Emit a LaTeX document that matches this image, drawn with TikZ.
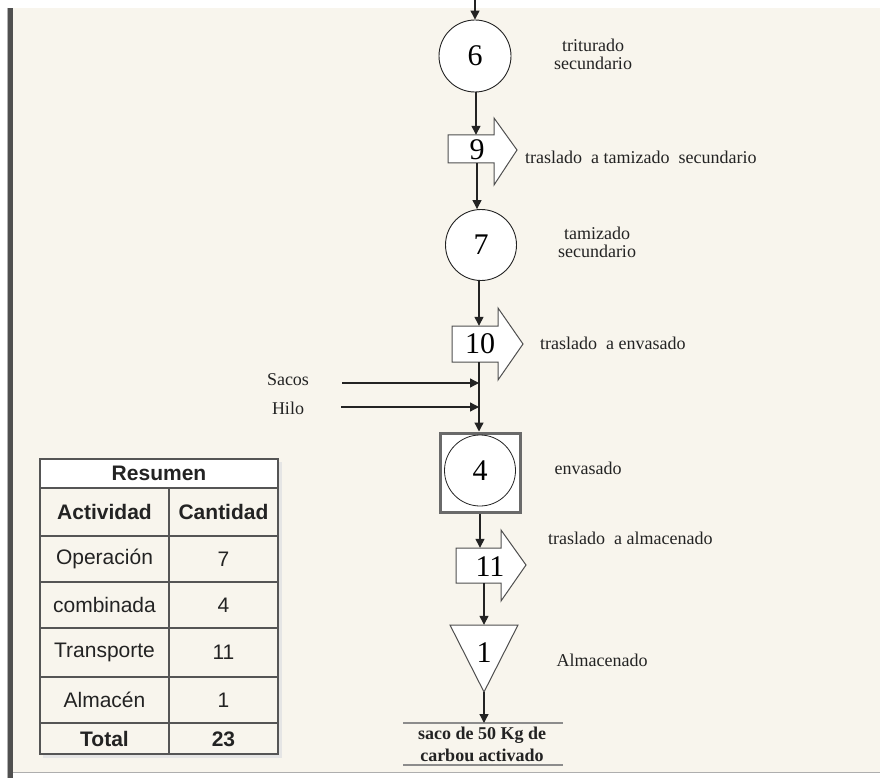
\documentclass[tikz,border=0pt]{standalone}
\usepackage{fontspec}
\setmainfont{Liberation Serif}
\newfontfamily\tablefont{Liberation Sans}
\usetikzlibrary{arrows.meta,calc}

\definecolor{paper}{RGB}{248,245,237}
\definecolor{ink}{RGB}{35,35,35}
\definecolor{framegray}{RGB}{80,80,80}
\definecolor{gridgray}{RGB}{85,85,85}
\definecolor{rulegray}{RGB}{140,140,140}

\tikzset{
  flow/.style={draw=ink, line width=1.3pt, -{Triangle[length=9pt,width=9pt]}},
  opcircle/.style={circle, draw=ink, line width=0.9pt, fill=white, inner sep=0pt,
    font=\fontsize{30}{32}\selectfont, text=black},
  shapeline/.style={draw=ink!80, line width=1pt, fill=white},
  num/.style={inner sep=0pt, font=\fontsize{30}{32}\selectfont, text=black},
  body/.style={inner sep=0pt, draw=none},
  note/.style={inner sep=0pt, align=center, text=ink, font=\fontsize{18}{18}\selectfont},
  tcell/.style={inner sep=0pt, text=ink, font=\tablefont\fontsize{21}{22}\selectfont},
  thead/.style={tcell, font=\tablefont\bfseries\fontsize{21}{22}\selectfont},
  grid/.style={draw=gridgray, line width=2.2pt},
}

\begin{document}
\begin{tikzpicture}[x=1pt,y=-1pt]
  % page and frame
  \useasboundingbox (0,0) rectangle (880,778);
  \fill[white] (0,0) rectangle (880,778);
  \fill[paper] (13,8) rectangle (880,772);
  \fill[framegray] (7,8) rectangle (13,778);
  \draw[gray!60, line width=0.8pt] (7.4,8) -- (7.4,778);
  \draw[rulegray!70, line width=1.2pt] (13,772.5) -- (880,772.5);

  % ---------- flow column ----------
  \coordinate (start) at (475,0);
  \node[opcircle, minimum size=72pt] (c6) at (475,56) {6};

  % transport 9
  \draw[shapeline] (448,135) -- (494,135) -- (494,118) -- (517,150)
      -- (494,185) -- (494,163) -- (448,163) -- cycle;
  \node[body, minimum width=46pt, minimum height=28pt] (t9) at (471,149) {};
  \node[num] (n9) at (477,150) {9};

  \node[opcircle, minimum size=71pt] (c7) at (481,245) {7};

  % transport 10
  \draw[shapeline] (452,326) -- (498,326) -- (498,308) -- (523,344)
      -- (498,380) -- (498,362) -- (452,362) -- cycle;
  \node[body, minimum width=46pt, minimum height=36pt] (t10) at (475,344) {};
  \node[num] (n10) at (480,344) {10};

  % combined operation 4
  \node[draw=framegray!85, line width=3pt, fill=white, minimum width=80pt,
        minimum height=79pt, inner sep=0pt] (sq4) at (480,472.5) {};
  \node[opcircle, minimum size=71pt, line width=0.8pt] (c4) at (480,470.5) {4};

  % transport 11
  \draw[shapeline] (456,548) -- (501,548) -- (501,530) -- (526,565)
      -- (501,601) -- (501,583) -- (456,583) -- cycle;
  \node[body, minimum width=45pt, minimum height=35pt] (t11) at (478.5,565.5) {};
  \node[num] (n11) at (490,567) {11};

  % storage 1
  \draw[shapeline] (450,625) -- (518,625) -- (484,692) -- cycle;
  \node[body, minimum width=68pt, minimum height=67pt] (s1) at (484,658.5) {};
  \node[num] (n1) at (484,653) {1};

  % final product
  \draw[rulegray, line width=2pt] (403,723) -- (563,723);
  \draw[rulegray, line width=2pt] (403,765) -- (563,765);
  \coordinate (endtop) at (484,723);
  \node[note, font=\bfseries\fontsize{18}{22}\selectfont] (prod) at (482,744)
      {saco de 50 Kg de\\carbou activado};

  % inputs
  \node[note] (sacos) at (288,380) {Sacos};
  \node[note] (hilo) at (288,408) {Hilo};
  \coordinate (sacosA) at (342,383);
  \coordinate (hiloA) at (341,407);

  % connectors
  \draw[flow] (start) -- (c6.north);
  \draw[flow] (c6.south -| 476,0) -- (476,0 |- t9.north);
  \draw[flow] (477,0 |- t9.south) -- (c7.north -| 477,0);
  \draw[flow] (c7.south -| 479,0) -- (479,0 |- t10.north);
  \draw[flow] (479,0 |- t10.south) -- (sq4.north -| 479,0);
  \draw[flow] (sacosA) -- (sacosA -| 479,0);
  \draw[flow] (hiloA) -- (hiloA -| 479,0);
  \draw[flow] (sq4.south -| 480,0) -- (480,0 |- t11.north);
  \draw[flow] (484,0 |- t11.south) -- (s1.north -| 484,0);
  \draw[flow] (s1.south -| 484,0) -- (endtop);

  % descriptions
  \node[note] (d6) at (593,54) {triturado\\secundario};
  \node[note, anchor=west] (d9) at (525,157) {traslado\hspace{0.5em}a tamizado\hspace{0.5em}secundario};
  \node[note] (d7) at (597,242) {tamizado\\secundario};
  \node[note, anchor=west] (d10) at (540,343) {traslado\hspace{0.5em}a envasado};
  \node[note] (d4) at (588,468) {envasado};
  \node[note, anchor=west] (d11) at (548,538) {traslado\hspace{0.5em}a almacenado};
  \node[note] (d1) at (602,660) {Almacenado};

  % ---------- summary table ----------
  \fill[black!10] (43,462) rectangle (282,758);
  \fill[paper] (40,459) rectangle (278,754);
  \fill[white] (40,459) rectangle (278,488);
  \draw[grid] (40,459) rectangle (278,754);
  \foreach \yy in {488,536,582,628,677,723}
    \draw[grid] (40,\yy) -- (278,\yy);
  \draw[grid] (169,488) -- (169,754);

  \node[thead] (hres) at (159,473) {Resumen};
  \node[thead] (hact) at (104.5,512) {Actividad};
  \node[thead] (hcan) at (223.5,512) {Cantidad};
  \node[tcell] (r1a) at (104.5,559) {Operación};
  \node[tcell] (r1b) at (223.5,559) {7};
  \node[tcell] (r2a) at (104.5,605) {combinada};
  \node[tcell] (r2b) at (223.5,605) {4};
  \node[tcell] (r3a) at (104.5,652) {Transporte};
  \node[tcell] (r3b) at (223.5,652) {11};
  \node[tcell] (r4a) at (104.5,700) {Almacén};
  \node[tcell] (r4b) at (223.5,700) {1};
  \node[thead] (r5a) at (104.5,739) {Total};
  \node[thead] (r5b) at (223.5,739) {23};
\end{tikzpicture}
\end{document}
